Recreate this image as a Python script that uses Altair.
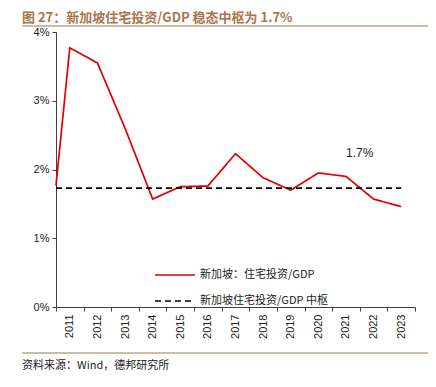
import altair as alt
import pandas as pd

# data
years = [2010.5, 2011, 2012, 2013, 2014, 2015, 2016, 2017, 2018, 2019, 2020, 2021, 2022, 2023]
ratio = [1.77, 3.77, 3.55, 2.60, 1.57, 1.75, 1.76, 2.23, 1.88, 1.70, 1.95, 1.90, 1.57, 1.46]
center_x = [2010.5, 2023]
center_y = [1.73, 1.73]
series_names = ["新加坡：住宅投资/GDP", "新加坡住宅投资/GDP 中枢"]
band_edges = [2010.5 + i for i in range(14)]
y_ticks = [0, 1, 2, 3, 4]
note_x, note_y, note_text = [2021.5], [2.24], ["1.7%"]

df = pd.concat([
    pd.DataFrame({"x": years, "y": ratio, "s": series_names[0]}),
    pd.DataFrame({"x": center_x, "y": center_y, "s": series_names[1]}),
])

BROWN = "#A8764C"
AX = "#404040"
FONT = "Liberation Sans"
CJK = "Noto Sans CJK SC"
W, H = 359, 275
HALF_STEP = W / 13 / 2

xscale = alt.Scale(domain=[2010.5, 2023.5], nice=False, zero=False)
yscale = alt.Scale(domain=[0, 4], nice=False)

legend_kw = dict(title=None, orient="none", legendX=98, legendY=222,
                 symbolType="stroke", symbolSize=1600, symbolStrokeWidth=1.7,
                 labelFont=CJK, labelFontSize=11, labelColor="#222",
                 rowPadding=-20, labelOffset=4, labelLimit=400)

lines = alt.Chart(df).mark_line(strokeWidth=1.7).encode(
    x=alt.X("x:Q", scale=xscale, title=None, axis=alt.Axis(
        values=band_edges, tickCount=40,
        labelExpr="datum.value > 2023 ? '' : format(datum.value + 0.5, 'd')",
        labelAngle=270, labelOverlap=False, labelFlush=False, labelBound=False,
        labelOffset=HALF_STEP, tickSize=4, labelPadding=3, grid=False,
        domainColor=AX, tickColor=AX, labelColor="#222", labelFont=FONT, labelFontSize=11)),
    y=alt.Y("y:Q", scale=yscale, title=None, axis=alt.Axis(
        values=y_ticks, labelExpr="datum.value + '%'", grid=False,
        tickSize=4, labelPadding=3, domainColor=AX, tickColor=AX,
        labelColor="#222", labelFont=FONT, labelFontSize=11)),
    color=alt.Color("s:N", scale=alt.Scale(domain=series_names, range=["#E00000", "#000000"]),
                    legend=alt.Legend(**legend_kw)),
    strokeDash=alt.StrokeDash("s:N", scale=alt.Scale(domain=series_names, range=[[1, 0], [6, 4]]),
                              legend=alt.Legend(**legend_kw)),
    order=alt.Order("x:Q"),
)

note = alt.Chart(pd.DataFrame({"x": note_x, "y": note_y, "t": note_text})).mark_text(
    font=FONT, fontSize=12, color="#222").encode(
    x=alt.X("x:Q", scale=xscale), y=alt.Y("y:Q", scale=yscale), text="t:N")

one = alt.Data(values=[{}])
title = alt.Chart(one).mark_text(text="图 27：新加坡住宅投资/GDP 稳态中枢为 1.7%", font=CJK,
                                 fontSize=13, fontWeight="bold", color=BROWN,
                                 align="left", baseline="middle").encode(
    x=alt.value(-34), y=alt.value(-14))
rule_top = alt.Chart(one).mark_rule(color=BROWN, strokeWidth=1.2).encode(
    x=alt.value(-34), x2=alt.value(372), y=alt.value(-6))
rule_bot = alt.Chart(one).mark_rule(color=BROWN, strokeWidth=1.2).encode(
    x=alt.value(-34), x2=alt.value(372), y=alt.value(321))
source = alt.Chart(one).mark_text(text="资料来源：Wind，德邦研究所", font=CJK, fontSize=11,
                                  color="#222", align="left", baseline="middle").encode(
    x=alt.value(-34), y=alt.value(334))

chart = alt.layer(lines, note, title, rule_top, rule_bot, source).properties(
    width=W, height=H,
    autosize=alt.AutoSizeParams(type="none"),
    padding={"left": 48, "top": 24, "right": 13, "bottom": 70},
).configure_view(stroke=None)

chart.save("out.html", embed_options={"renderer": "svg", "actions": False})
